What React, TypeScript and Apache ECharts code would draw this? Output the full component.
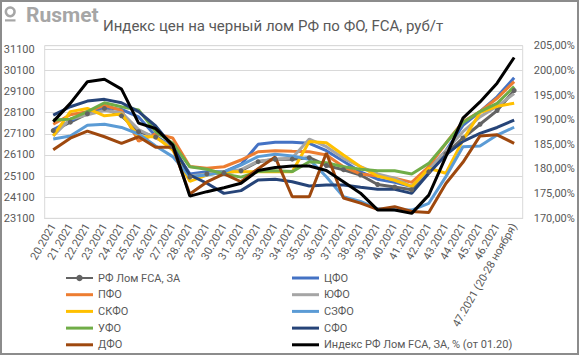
import React, { useEffect, useRef } from "react";
import * as echarts from "echarts";

const categories = [
  "20.2021", "21.2021", "22.2021", "23.2021", "24.2021", "25.2021", "26.2021",
  "27.2021", "28.2021", "29.2021", "30.2021", "31.2021", "32.2021", "33.2021",
  "34.2021", "35.2021", "36.2021", "37.2021", "38.2021", "39.2021", "40.2021",
  "41.2021", "42.2021", "43.2021", "44.2021", "45.2021", "46.2021",
  "47.2021 (20-28 ноября)",
];

const rf = [27250, 27650, 28050, 28300, 27950, 27200, 26950, 26500, 25050, 25200, 25250, 25350, 25780, 25890, 25900, 25970, 25600, 25400, 25150, 24700, 24580, 24450, 25300, 26150, 26900, 27550, 28200, 29150];
const cfo = [27300, 27700, 28150, 28350, 28250, 27900, 27000, 26450, 25200, 25300, 25300, 25650, 26600, 26700, 26700, 26650, 26300, 25800, 25300, 24950, 24800, 24600, 25400, 26300, 27500, 28150, 28850, 29750];
const pfo = [27550, 28000, 28150, 28450, 28200, 26750, 27100, 26900, 25550, 25470, 25540, 25860, 26250, 26300, 26270, 26250, 26100, 25540, 25200, 25100, 25000, 24800, 25550, 26650, 27670, 28150, 28780, 29570];
const yufo = [27000, 27800, 28000, 28200, 28100, 27300, 26900, 26500, 25100, 25200, 25300, 25400, 25800, 25900, 25950, 26850, 26490, 25940, 25540, 25200, 25000, 24600, 25400, 26300, 27200, 27900, 28400, 29000];
const skfo = [27000, 28150, 28300, 27950, 28040, 26960, 26960, 26330, 24850, 25150, 25300, 25300, 25300, 25300, 25300, 26730, 26680, 26100, 25540, 25100, 24900, 24600, 25470, 25230, 26800, 28100, 28400, 28550];
const szfo = [26850, 27000, 27500, 27550, 27400, 27090, 26520, 26020, 25070, 25150, 25300, 25620, 26020, 26130, 26050, 25890, 25070, 24120, 23900, 23550, 23500, 23490, 23810, 25070, 26490, 26520, 27040, 27410];
const ufo = [27750, 27790, 28150, 28570, 28380, 28230, 27200, 26650, 25540, 25420, 25200, 25050, 25310, 25350, 25310, 25780, 25730, 25540, 25420, 25350, 25350, 25200, 25700, 26650, 27630, 28150, 28540, 29330];
const sfo = [27980, 28380, 28650, 28730, 28570, 28150, 27470, 26490, 25150, 24760, 24280, 24410, 24910, 24950, 24830, 24630, 24680, 24680, 24570, 24470, 24470, 24280, 25230, 26100, 26740, 27120, 27400, 27750];
const dfo = [26350, 26890, 27230, 26960, 26650, 26960, 26460, 26460, 24250, 24820, 25200, 24830, 25450, 26000, 24120, 24120, 26190, 24060, 23820, 23520, 23650, 23420, 23370, 24750, 25750, 27000, 27050, 26650];
const indexPct = [189.6, 193.3, 197.7, 198.2, 196.2, 189.3, 188.2, 184.9, 174.5, 175.4, 176.2, 177.1, 179.7, 180.3, 180.6, 180.6, 179.7, 177.4, 175.1, 171.7, 171.7, 171.0, 174.7, 182.5, 190.3, 193.6, 197.4, 202.6];

const leftTicks = { min: 23100, max: 31270, step: 1000 };
const rightTicks = { min: 170, max: 205, step: 5 };

const FONT = "Roboto, 'Liberation Sans', sans-serif";
const TXT = "#595959";
const LINE_ICON = "path://M0,0 L27,0 L27,3 L0,3 Z";

const NAMES = {
  rf: "РФ Лом FCA, ЗА",
  cfo: "ЦФО",
  pfo: "ПФО",
  yufo: "ЮФО",
  skfo: "СКФО",
  szfo: "СЗФО",
  ufo: "УФО",
  sfo: "СФО",
  dfo: "ДФО",
  idx: "Индекс РФ Лом FCA, ЗА, % (от 01.20)",
};

function lineSeries(name: string, data: number[], color: string, extra: any = {}) {
  return {
    name,
    type: "line",
    data,
    symbol: "none",
    showSymbol: false,
    lineStyle: { color, width: 3 },
    itemStyle: { color },
    z: 2,
    ...extra,
  };
}

function legendItem(name: string) {
  return name === NAMES.rf ? { name } : { name, icon: LINE_ICON };
}

export default function App() {
  const ref = useRef<HTMLDivElement>(null);
  useEffect(() => {
    if (!ref.current) return;
    const chart = echarts.init(ref.current, undefined, { renderer: "svg" });
    const legendCommon = {
      orient: "vertical",
      itemWidth: 27,
      itemHeight: 8,
      itemGap: 4.7,
      symbolKeepAspect: true,
      textStyle: { fontFamily: FONT, fontSize: 11, color: TXT, lineHeight: 12 },
    };
    chart.setOption({
      animation: false,
      backgroundColor: "#ffffff",
      textStyle: { fontFamily: FONT },
      grid: {
        left: 44.7,
        right: 57.3,
        top: 45.7,
        bottom: 137.7,
        show: true,
        borderColor: "#d9d9d9",
        borderWidth: 1,
      },
      graphic: [
        {
          type: "rect",
          shape: { x: 1, y: 1, width: 577, height: 353 },
          style: { fill: "none", stroke: "#8c8c8c", lineWidth: 2 },
          silent: true,
        },
        {
          type: "ring",
          shape: { cx: 10.2, cy: 11.8, r: 5.6, r0: 3.1 },
          style: { fill: "#a6a6a6" },
        },
        {
          type: "rect",
          shape: { x: 5, y: 19.3, width: 10.5, height: 2.2 },
          style: { fill: "#a6a6a6" },
        },
        {
          type: "text",
          x: 26,
          y: 14.5,
          style: {
            text: "Rusmet",
            fontFamily: FONT,
            fontSize: 21,
            fontWeight: "bold",
            fill: "#a6a6a6",
            textVerticalAlign: "middle",
            verticalAlign: "middle",
          },
        },
        {
          type: "text",
          x: 103,
          y: 26,
          style: {
            text: "Индекс цен на черный лом РФ по ФО, FCA, руб/т",
            fontFamily: FONT,
            fontSize: 15,
            fill: TXT,
            textVerticalAlign: "middle",
            verticalAlign: "middle",
          },
        },
      ],
      legend: [
        {
          ...legendCommon,
          left: 60,
          top: 267,
          data: [NAMES.rf, NAMES.pfo, NAMES.skfo, NAMES.ufo, NAMES.dfo].map(legendItem),
        },
        {
          ...legendCommon,
          left: 287,
          top: 267,
          data: [NAMES.cfo, NAMES.yufo, NAMES.szfo, NAMES.sfo, NAMES.idx].map(legendItem),
        },
      ],
      xAxis: {
        type: "category",
        data: categories,
        boundaryGap: true,
        axisTick: { show: false },
        axisLine: { show: true, lineStyle: { color: "#d9d9d9" } },
        axisLabel: {
          interval: 0,
          rotate: 60,
          margin: 6,
          fontFamily: FONT,
          fontSize: 11,
          color: TXT,
        },
      },
      yAxis: [
        {
          type: "value",
          min: leftTicks.min,
          max: leftTicks.max,
          interval: leftTicks.step,
          axisLine: { show: false },
          axisTick: { show: false },
          splitLine: { show: true, lineStyle: { color: "#d9d9d9", width: 1 } },
          axisLabel: {
            showMaxLabel: false,
            margin: 10,
            fontFamily: FONT,
            fontSize: 11,
            color: TXT,
            formatter: (v: number) => ((v - leftTicks.min) % leftTicks.step === 0 ? String(v) : ""),
          },
        },
        {
          type: "value",
          min: rightTicks.min,
          max: rightTicks.max,
          interval: rightTicks.step,
          position: "right",
          axisLine: { show: false },
          axisTick: { show: false },
          splitLine: { show: false },
          axisLabel: {
            margin: 11,
            fontFamily: FONT,
            fontSize: 11,
            color: TXT,
            formatter: (v: number) => v.toFixed(2).replace(".", ",") + "%",
          },
        },
      ],
      series: [
        lineSeries(NAMES.rf, rf, "#636363", {
          symbol: "circle",
          showSymbol: true,
          symbolSize: 5,
        }),
        lineSeries(NAMES.cfo, cfo, "#4472C4"),
        lineSeries(NAMES.pfo, pfo, "#ED7D31"),
        lineSeries(NAMES.yufo, yufo, "#A5A5A5"),
        lineSeries(NAMES.skfo, skfo, "#FFC000"),
        lineSeries(NAMES.szfo, szfo, "#5B9BD5"),
        lineSeries(NAMES.ufo, ufo, "#70AD47"),
        lineSeries(NAMES.sfo, sfo, "#264478"),
        lineSeries(NAMES.dfo, dfo, "#9E480E"),
        lineSeries(NAMES.idx, indexPct, "#000000", { yAxisIndex: 1, z: 3 }),
      ],
    });
    return () => chart.dispose();
  }, []);
  return (
    <div
      ref={ref}
      style={{ position: "fixed", left: 0, top: 0, width: 580, height: 356, background: "#fff" }}
    />
  );
}
